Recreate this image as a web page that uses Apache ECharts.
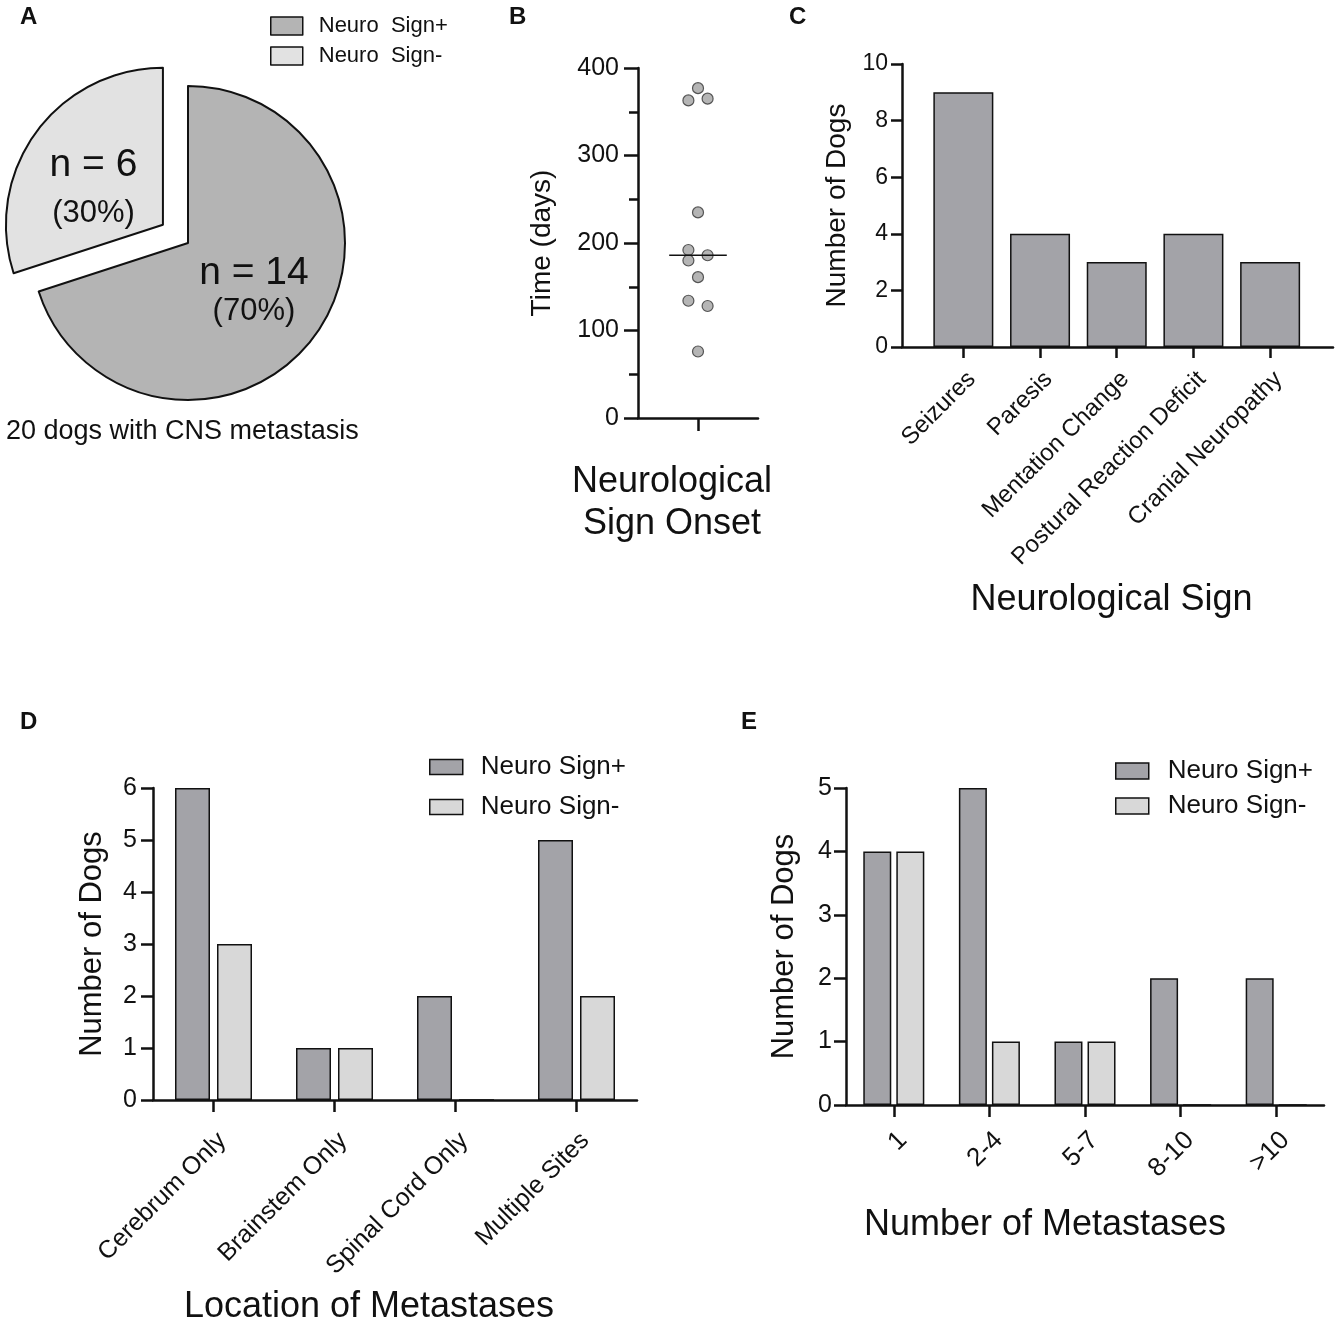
<!DOCTYPE html>
<html><head><meta charset="utf-8">
<script src="https://cdn.jsdelivr.net/npm/echarts@6/dist/echarts.min.js"></script>
<style>html,body{margin:0;padding:0;background:#fff}#c{width:1342px;height:1321px}</style>
</head><body><div id="c"></div>
<script>
// ---------- data ----------
const pieNames = ['Neuro  Sign+', 'Neuro  Sign-'];
const pieCounts = [14, 6];
const onsetDays = [377, 363, 365, 235, 192, 186, 180, 161, 134, 128, 76];
const onsetColumn = [0, -1, 1, 0, -1, 1, -1, 0, -1, 1, 0];
const onsetMedian = 186;
const signCategories = ['Seizures', 'Paresis', 'Mentation Change', 'Postural Reaction Deficit', 'Cranial Neuropathy'];
const signCounts = [9, 4, 3, 4, 3];
const groupNames = ['Neuro Sign+', 'Neuro Sign-'];
const locationCategories = ['Cerebrum Only', 'Brainstem Only', 'Spinal Cord Only', 'Multiple Sites'];
const locationPos = [6, 1, 2, 5];
const locationNeg = [3, 1, 0, 2];
const metCategories = ['1', '2-4', '5-7', '8-10', '>10'];
const metPos = [4, 5, 1, 2, 2];
const metNeg = [4, 1, 1, 0, 0];

// ---------- styles ----------
const FONT = "'Liberation Sans', Arial, Helvetica, sans-serif";
const INK = '#111';
const DARK = '#a3a3a8';
const LIGHT = '#d8d8d8';
const PIE_DARK = '#b4b4b4';
const PIE_LIGHT = '#e2e2e2';
const AXW = 2.5;
const JITTER = 0.16;
const MEDIAN_HALF = 0.48;

const axisLine = { show: true, onZero: false, lineStyle: { color: INK, width: AXW } };
const tick = len => ({ show: true, length: len, lineStyle: { color: INK, width: AXW } });

function yAxisBase(gridIndex, max, interval, name, nameGap, labelSize, nameSize, tickLen, margin) {
  return {
    type: 'value', gridIndex, min: 0, max, interval,
    name, nameLocation: 'middle', nameGap,
    nameTextStyle: { fontFamily: FONT, fontSize: nameSize, color: INK },
    axisLine, axisTick: tick(tickLen),
    axisLabel: { fontFamily: FONT, fontSize: labelSize, color: INK, margin },
    splitLine: { show: false }
  };
}

const chart = echarts.init(document.getElementById('c'), null, { renderer: 'canvas' });

const letter = { fontFamily: FONT, fontSize: 24, fontWeight: 'bold', color: INK };
const legendBase = { orient: 'vertical', padding: 0, selectedMode: false, icon: 'rect',
  itemStyle: { borderColor: INK, borderWidth: 1.5 } };

const option = {
  backgroundColor: '#fff',
  animation: false,
  textStyle: { fontFamily: FONT, color: INK },
  title: [
    { text: 'A', left: 20, top: 5, padding: 0, textStyle: letter },
    { text: 'B', left: 509, top: 5, padding: 0, textStyle: letter },
    { text: 'C', left: 789, top: 5, padding: 0, textStyle: letter },
    { text: 'D', left: 20, top: 710, padding: 0, textStyle: letter },
    { text: 'E', left: 741, top: 710, padding: 0, textStyle: letter },
    { text: '20 dogs with CNS metastasis', left: 6, top: 418, padding: 0,
      textStyle: { fontFamily: FONT, fontSize: 27, fontWeight: 'normal', color: INK } },
    { text: 'Neurological\nSign Onset', left: 672, top: 461, padding: 0, textAlign: 'center',
      textStyle: { fontFamily: FONT, fontSize: 36, fontWeight: 'normal', color: INK, lineHeight: 42, align: 'center' } }
  ],
  legend: [
    Object.assign({}, legendBase, { data: pieNames, left: 270, top: 15, itemWidth: 32, itemHeight: 18, itemGap: 8,
      textStyle: { fontFamily: FONT, fontSize: 22, color: INK, padding: [0, 0, 0, 11] } }),
    Object.assign({}, legendBase, { data: groupNames, left: 429, top: 754, itemWidth: 33, itemHeight: 15, itemGap: 14,
      textStyle: { fontFamily: FONT, fontSize: 26, color: INK, padding: [0, 0, 0, 13] } }),
    Object.assign({}, legendBase, { data: groupNames, left: 1115, top: 758, itemWidth: 33, itemHeight: 16, itemGap: 9,
      textStyle: { fontFamily: FONT, fontSize: 26, color: INK, padding: [0, 0, 0, 14] } })
  ],
  grid: [
    { left: 638, top: 68, width: 120, height: 350, outerBoundsMode: 'none', containLabel: false },   // B
    { left: 902, top: 64, width: 431, height: 283, outerBoundsMode: 'none', containLabel: false },   // C
    { left: 153, top: 788, width: 484, height: 312, outerBoundsMode: 'none', containLabel: false },  // D
    { left: 846, top: 788, width: 478, height: 317, outerBoundsMode: 'none', containLabel: false }   // E
  ],
  xAxis: [
    { type: 'value', gridIndex: 0, min: -1, max: 1,
      axisLine, axisTick: Object.assign(tick(13), { customValues: [0] }),
      axisLabel: { show: false }, splitLine: { show: false } },
    { type: 'value', gridIndex: 1, min: -0.8, max: 4.82,
      axisLine,
      axisTick: Object.assign(tick(11), { customValues: [0, 1, 2, 3, 4] }),
      axisLabel: { customValues: [0, 1, 2, 3, 4], formatter: v => signCategories[Math.round(v)],
        rotate: 45, margin: 20, verticalAlign: 'top', fontFamily: FONT, fontSize: 24, color: INK },
      name: 'Neurological Sign', nameLocation: 'middle', nameGap: 235,
      nameTextStyle: { fontFamily: FONT, fontSize: 36, color: INK, padding: [0, 12, 0, 0] },
      splitLine: { show: false } },
    { type: 'category', gridIndex: 2, data: locationCategories,
      axisLine, axisTick: Object.assign(tick(12), { alignWithLabel: true }),
      axisLabel: { interval: 0, rotate: 45, margin: 28, verticalAlign: 'top', fontFamily: FONT, fontSize: 25, color: INK },
      name: 'Location of Metastases', nameLocation: 'middle', nameGap: 189,
      nameTextStyle: { fontFamily: FONT, fontSize: 36, color: INK, padding: [0, 52, 0, 0] } },
    { type: 'category', gridIndex: 3, data: metCategories,
      axisLine, axisTick: Object.assign(tick(12), { alignWithLabel: true }),
      axisLabel: { interval: 0, rotate: 45, margin: 22, verticalAlign: 'top', fontFamily: FONT, fontSize: 26, color: INK },
      name: 'Number of Metastases', nameLocation: 'middle', nameGap: 102,
      nameTextStyle: { fontFamily: FONT, fontSize: 36, color: INK, padding: [0, 80, 0, 0] } }
  ],
  yAxis: [
    Object.assign(yAxisBase(0, 400, 100, 'Time (days)', 82, 25, 28, 14, 19), {
      minorTick: { show: true, splitNumber: 2, length: 9, lineStyle: { color: INK, width: AXW } },
      minorSplitLine: { show: false } }),
    yAxisBase(1, 10, 2, 'Number of Dogs', 51, 23, 28, 11, 14),
    yAxisBase(2, 6, 1, 'Number of Dogs', 45, 25, 31, 12, 16),
    yAxisBase(3, 5, 1, 'Number of Dogs', 46, 25, 31, 12, 14)
  ],
  series: [
    { type: 'pie', center: [188, 243], radius: 157, startAngle: 90, clockwise: true,
      selectedMode: 'single', selectedOffset: 31, avoidLabelOverlap: false,
      itemStyle: { borderColor: INK, borderWidth: 2 },
      label: { show: true, position: 'inside', color: INK,
        formatter: p => `{n|n = ${p.value}}\n{p|(${p.percent}%)}` },
      labelLine: { show: false },
      emphasis: { disabled: true },
      data: pieNames.map((n, i) => ({
        name: n, value: pieCounts[i], selected: i === 1,
        itemStyle: { color: i === 0 ? PIE_DARK : PIE_LIGHT },
        label: i === 0
          ? { rich: { n: { fontFamily: FONT, fontSize: 39, color: INK, lineHeight: 42 },
                      p: { fontFamily: FONT, fontSize: 31, color: INK, lineHeight: 36 } } }
          : { padding: [21, 7, 0, 0],
              rich: { n: { fontFamily: FONT, fontSize: 39, color: INK, lineHeight: 52 },
                      p: { fontFamily: FONT, fontSize: 31, color: INK, lineHeight: 44 } } }
      })) },
    { type: 'scatter', xAxisIndex: 0, yAxisIndex: 0, symbol: 'circle', symbolSize: 11,
      itemStyle: { color: '#a2a2a2', borderColor: '#333', borderWidth: 1.2 },
      data: onsetDays.map((d, i) => [onsetColumn[i] * JITTER, d]) },
    { type: 'line', xAxisIndex: 0, yAxisIndex: 0, symbol: 'none',
      lineStyle: { color: INK, width: 1.5 },
      data: [[-MEDIAN_HALF, onsetMedian], [MEDIAN_HALF, onsetMedian]] },
    { type: 'bar', xAxisIndex: 1, yAxisIndex: 1, barWidth: 60,
      itemStyle: { color: DARK, borderColor: INK, borderWidth: 1.5 },
      data: signCounts.map((v, i) => [i, v]) },
    { type: 'bar', name: groupNames[0], xAxisIndex: 2, yAxisIndex: 2, barWidth: 35, barGap: '20%',
      itemStyle: { color: DARK, borderColor: INK, borderWidth: 1.5 }, data: locationPos },
    { type: 'bar', name: groupNames[1], xAxisIndex: 2, yAxisIndex: 2, barWidth: 35, barGap: '20%',
      itemStyle: { color: LIGHT, borderColor: INK, borderWidth: 1.5 }, data: locationNeg },
    { type: 'bar', name: groupNames[0], xAxisIndex: 3, yAxisIndex: 3, barWidth: 28, barGap: '18%',
      itemStyle: { color: DARK, borderColor: INK, borderWidth: 1.5 }, data: metPos },
    { type: 'bar', name: groupNames[1], xAxisIndex: 3, yAxisIndex: 3, barWidth: 28, barGap: '18%',
      itemStyle: { color: LIGHT, borderColor: INK, borderWidth: 1.5 }, data: metNeg }
  ]
};
chart.setOption(option);
</script>
</body></html>
